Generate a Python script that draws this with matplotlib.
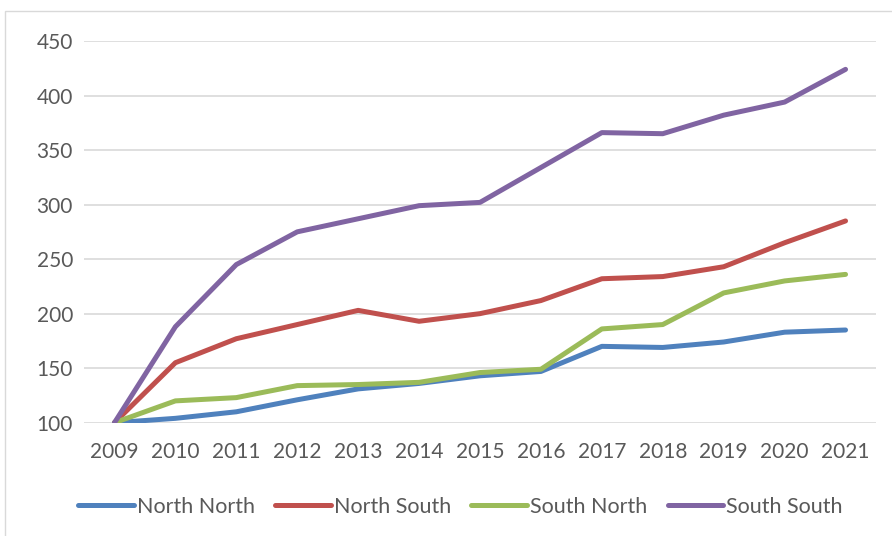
import matplotlib
matplotlib.use("Agg")
import matplotlib.pyplot as plt
from matplotlib.patches import Rectangle

years = ["2009", "2010", "2011", "2012", "2013", "2014", "2015",
         "2016", "2017", "2018", "2019", "2020", "2021"]
north_north = [100, 104, 110, 121, 131, 136, 143, 147, 170, 169, 174, 183, 185]
north_south = [100, 155, 177, 190, 203, 193, 200, 212, 232, 234, 243, 265, 285]
south_north = [100, 120, 123, 134, 135, 137, 146, 149, 186, 190, 219, 230, 236]
south_south = [100, 188, 245, 275, 287, 299, 302, 334, 366, 365, 382, 394, 424]
series_names = ["North North", "North South", "South North", "South South"]
colors = ["#4f81bd", "#c0504d", "#9bbb59", "#8064a2"]
yticks = [100, 150, 200, 250, 300, 350, 400, 450]

plt.rcParams['font.family'] = ['Lato', 'DejaVu Sans']

fig = plt.figure(figsize=(8.92, 5.36), dpi=100)
fig.patches.append(Rectangle((5/892, -0.1), 1.2, 1 - 11/536 + 0.1,
                             transform=fig.transFigure, fill=False,
                             edgecolor="#d9d9d9", linewidth=1.0))
ax = fig.add_axes([84/892, 113.3/536, 792/892, 381.7/536])

x = list(range(len(years)))
for vals, name, c in zip([north_north, north_south, south_north, south_south],
                         series_names, colors):
    ax.plot(x, vals, color=c, linewidth=3.6, label=name,
            solid_capstyle='round', solid_joinstyle='round', zorder=3)

ax.set_xlim(-0.5, len(years) - 0.5)
ax.set_ylim(100, 450)
ax.set_yticks(yticks)
ax.set_xticks(x)
ax.set_xticklabels(years)
for s in ax.spines.values():
    s.set_visible(False)
ax.grid(axis='y', color="#d9d9d9", linewidth=1.2, zorder=0)
ax.tick_params(axis='both', length=0, labelsize=15, colors="#595959")
ax.tick_params(axis='x', pad=14)
ax.tick_params(axis='y', pad=8)

leg = fig.legend(loc='center', bbox_to_anchor=(0.516, 29/536), ncol=4,
                 frameon=False, fontsize=15.5, handlelength=2.6,
                 handletextpad=0.12, columnspacing=0.95)
for t in leg.get_texts():
    t.set_color("#595959")
for h in leg.get_lines():
    h.set_linewidth(3.6)
    h.set_solid_capstyle('round')

fig.savefig("out.png", dpi=100)
